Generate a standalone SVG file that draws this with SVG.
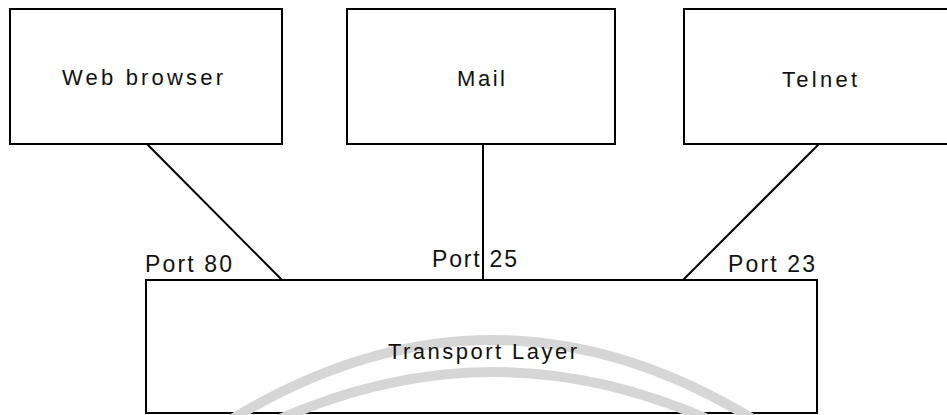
<svg xmlns="http://www.w3.org/2000/svg" width="947" height="415" viewBox="0 0 947 415">
<style>
.box{fill:#fff;stroke:#000;stroke-width:2}
.lbl{font-family:"Liberation Sans",Arial,sans-serif;font-size:22px;fill:#111;text-anchor:middle}
.port{font-family:"Liberation Sans",Arial,sans-serif;font-size:23px;fill:#111;text-anchor:middle}
.conn{stroke:#000;stroke-width:2;fill:none}
.arc{stroke:#d6d6d6;fill:none;stroke-width:10}
</style>
<rect width="947" height="415" fill="#fff"/>
<g id="web-browser">
<rect class="box" x="10" y="9" width="272" height="135"/>
<text class="lbl" x="142.5" y="85" textLength="161" lengthAdjust="spacing">Web browser</text>
</g>
<g id="mail">
<rect class="box" x="347" y="9" width="268" height="135"/>
<text class="lbl" x="481" y="86" textLength="48" lengthAdjust="spacing">Mail</text>
</g>
<g id="telnet">
<rect class="box" x="684" y="9" width="272" height="135"/>
<text class="lbl" x="819.5" y="87" textLength="75" lengthAdjust="spacing">Telnet</text>
</g>
<g id="transport-layer">
<rect class="box" x="146" y="280" width="671" height="133"/>
<path class="arc" d="M214.5 430 Q492.5 250 770.5 430"/>
<path class="arc" d="M256 430 Q493.5 314 731 430"/>
<text class="lbl" x="482.5" y="359" textLength="189" lengthAdjust="spacing">Transport Layer</text>
</g>
<g id="connectors">
<line class="conn" x1="147" y1="144" x2="282" y2="280"/>
<line class="conn" x1="483" y1="144" x2="483" y2="280"/>
<line class="conn" x1="819" y1="144" x2="683" y2="280"/>
<text class="port" x="188.5" y="272" textLength="87" lengthAdjust="spacing">Port 80</text>
<text class="port" x="474.5" y="267" textLength="85" lengthAdjust="spacing">Port 25</text>
<text class="port" x="771.5" y="272" textLength="87" lengthAdjust="spacing">Port 23</text>
</g>
</svg>
